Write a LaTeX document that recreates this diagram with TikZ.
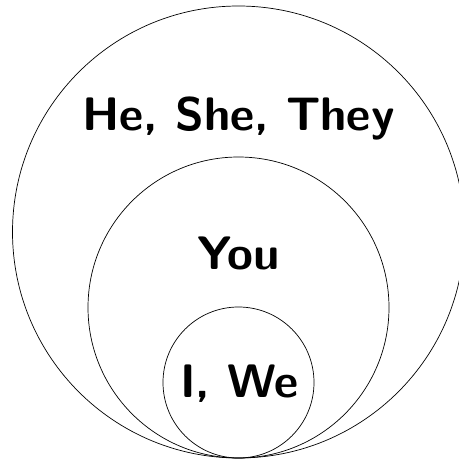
\documentclass[tikz,border=0pt]{standalone}
\usetikzlibrary{positioning}

\begin{document}
\begin{tikzpicture}[
  x=1pt, y=1pt,
  ring/.style={draw=black, line width=0.7pt, circle, inner sep=0pt,
    minimum size=#1},
  word/.style={font=\fontsize{47}{52}\selectfont\sffamily\bfseries,
    text=black, anchor=base, inner sep=0pt},
]

% Bounding box
\useasboundingbox (0,0) rectangle (459,459);

% Nested circles, all touching at the bottom
\node[ring=452pt] (outer) at (238.5,227) {};
\node[ring=301pt] (middle) at (238.5,151.5) {};
\node[ring=151pt] (inner) at (238.5,76.5) {};

% Labels
\node[word] (third) at (238.5,328) {He, She, They};
\node[word] (second) at (238.5,189) {You};
\node[word] (first) at (239.5,62) {I, We};

\end{tikzpicture}
\end{document}
